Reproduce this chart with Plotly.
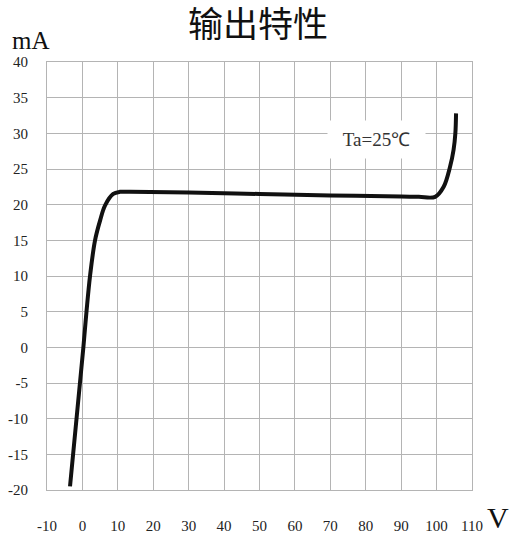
import plotly.graph_objects as go

# Output characteristic curve
voltage = [-3.5, 0.27, 1.15, 2.15, 3.56, 5.0, 6.4, 8.7, 10.6, 13.4,
           30.0, 50.0, 70.0, 90.0, 95.0, 99.6, 102.0, 103.8, 104.8, 105.3, 105.5]
current = [-19.5, 0.0, 5.0, 10.0, 15.0, 17.8, 19.9, 21.5, 21.8, 21.8,
           21.7, 21.5, 21.3, 21.15, 21.1, 21.1, 22.5, 25.3, 27.7, 30.0, 32.8]

x_ticks = list(range(-10, 111, 10))
y_ticks = list(range(-20, 41, 5))

title_text = "输出特性"
y_unit = "mA"
x_unit = "V"
note_text = "Ta=25℃"

serif = "Liberation Serif, Times New Roman, serif"

fig = go.Figure()
fig.add_trace(go.Scatter(
    x=voltage, y=current, mode="lines",
    line=dict(color="#111111", width=4, shape="spline", smoothing=1.0),
    showlegend=False, hoverinfo="skip",
))

axis_common = dict(
    showgrid=True, gridcolor="#b4b4b4", gridwidth=1,
    zeroline=False, showline=True, linecolor="#b4b4b4", linewidth=1, mirror=True,
    ticks="", tickfont=dict(family=serif, size=15, color="#222222"),
)

fig.update_layout(
    width=516, height=534,
    margin=dict(l=47, r=44, t=62, b=44, autoexpand=False),
    paper_bgcolor="white", plot_bgcolor="white",
    title=dict(text=title_text, x=0.5, xanchor="center", y=1 - 25 / 534, yanchor="middle",
               font=dict(family="Noto Sans CJK SC", size=35, color="#111111")),
    xaxis=dict(range=[-10, 110], tickvals=x_ticks, ticktext=[str(v) for v in x_ticks],
               ticklabelstandoff=22, automargin=False, **axis_common),
    yaxis=dict(range=[-20, 40], tickvals=y_ticks, ticktext=[str(v) for v in y_ticks],
               ticklabelstandoff=15, automargin=False, **axis_common),
    annotations=[
        dict(text=y_unit, xref="paper", yref="paper", x=-0.038, y=1.051,
             xanchor="center", yanchor="middle", showarrow=False,
             font=dict(family=serif, size=25, color="#111111")),
        dict(text=x_unit, xref="paper", yref="paper", x=1.061, y=-0.065,
             xanchor="center", yanchor="middle", showarrow=False,
             font=dict(family=serif, size=30, color="#111111")),
        dict(text=note_text, x=82.9, y=29.2, xref="x", yref="y",
             showarrow=False, bgcolor="white", width=95, height=35,
             font=dict(family=serif, size=19, color="#333333")),
    ],
)

fig.write_html("out.html", config={"displayModeBar": False},
               post_script="document.body.style.margin='0';")
